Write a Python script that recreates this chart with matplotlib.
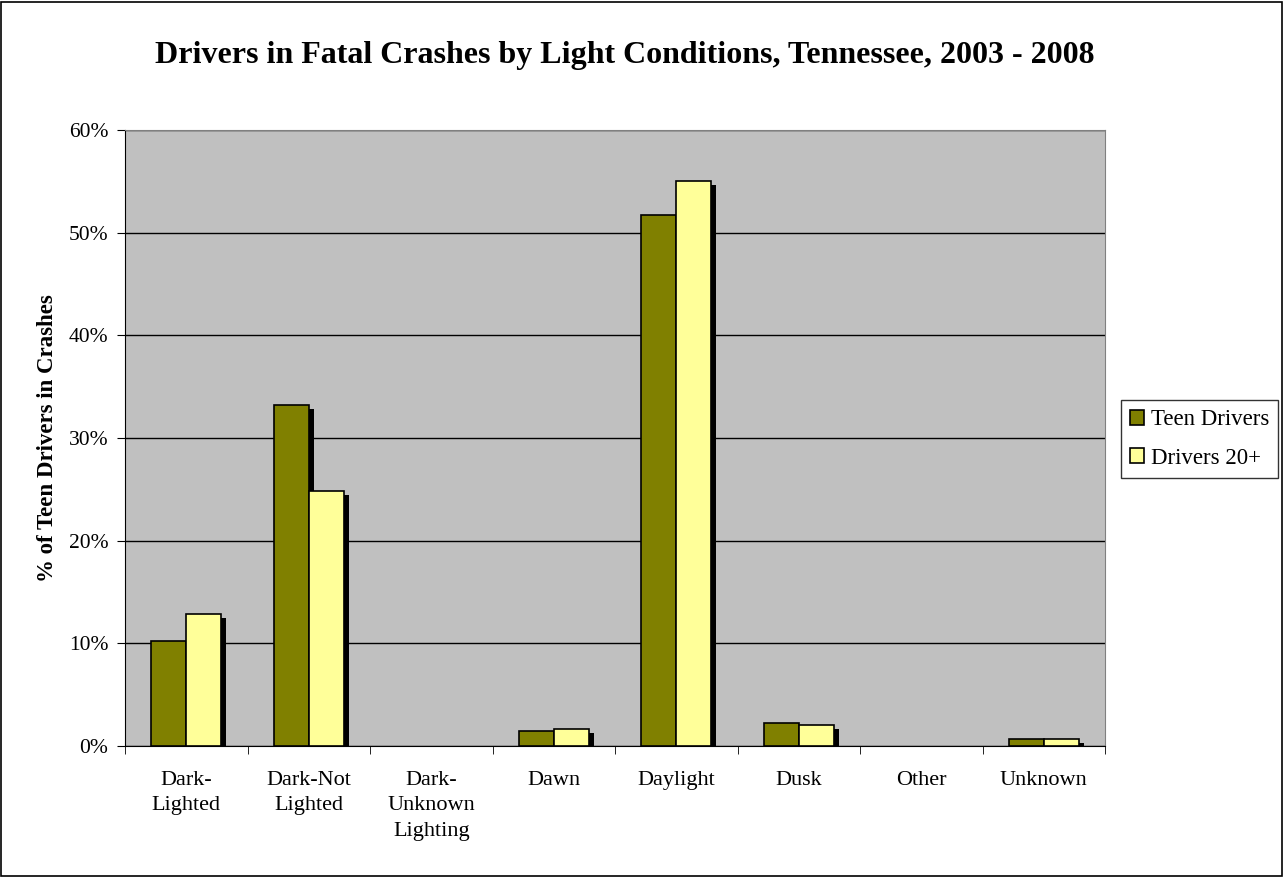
import matplotlib
matplotlib.use("Agg")
import matplotlib.pyplot as plt
import matplotlib.patheffects as pe
from matplotlib.patches import Patch, Rectangle
from matplotlib.ticker import FixedLocator, NullFormatter
import numpy as np

plt.rcParams['font.family'] = ['Liberation Serif', 'DejaVu Serif']

categories = ["Dark-\nLighted", "Dark-Not\nLighted", "Dark-\nUnknown\nLighting",
              "Dawn", "Daylight", "Dusk", "Other", "Unknown"]
teen_drivers = [10.2, 33.2, 0.0, 1.5, 51.7, 2.2, 0.0, 0.7]
drivers_20plus = [12.9, 24.8, 0.0, 1.7, 55.0, 2.0, 0.0, 0.7]
series_names = ["Teen Drivers", "Drivers 20+"]
colors = ["#808000", "#FFFF99"]
title = "Drivers in Fatal Crashes by Light Conditions, Tennessee, 2003 - 2008"
ylabel = "% of Teen Drivers in Crashes"

fig = plt.figure(figsize=(12.83, 8.77), dpi=100)
fig.patches.append(Rectangle((0.001, 0.001), 0.998, 0.997, transform=fig.transFigure,
                             fill=False, edgecolor="black", linewidth=1.2))

W, H = 1283, 877
left, right, top, bottom = 125, 1105, 130, 746
ax = fig.add_axes([left / W, 1 - bottom / H, (right - left) / W, (bottom - top) / H])
ax.set_facecolor("#C0C0C0")

x = np.arange(len(categories))
bw = 0.286
shadow = [pe.SimplePatchShadow(offset=(3.6, -2.9), shadow_rgbFace="black", alpha=1.0), pe.Normal()]
for i, (vals, c, name) in enumerate(zip([teen_drivers, drivers_20plus], colors, series_names)):
    bars = ax.bar(x + (i - 0.5) * bw, [v if v > 0 else np.nan for v in vals], width=bw,
                  color=c, edgecolor="black", linewidth=1.2, label=name, zorder=3)
    for b in bars:
        b.set_path_effects(shadow)

ax.set_xlim(-0.5, len(categories) - 0.5)
ax.set_ylim(0, 60)
ax.yaxis.set_major_locator(FixedLocator(np.arange(0, 61, 10)))
ax.set_yticklabels([f"{v}%" for v in range(0, 61, 10)], fontsize=15.5)
ax.yaxis.grid(True, color="black", linewidth=1.0, zorder=1)
ax.set_axisbelow(True)

ax.set_xticks(x)
ax.set_xticklabels(categories, fontsize=16, linespacing=1.45)
ax.tick_params(axis="x", which="major", length=0, pad=18)
ax.xaxis.set_minor_locator(FixedLocator(np.arange(-0.5, len(categories), 1)))
ax.xaxis.set_minor_formatter(NullFormatter())
ax.tick_params(axis="x", which="minor", length=6, color="black", direction="out")
ax.tick_params(axis="y", length=6, color="black", direction="out", pad=6)

for side in ["top", "right"]:
    ax.spines[side].set_color("#808080")
ax.spines["left"].set_color("black")
ax.spines["bottom"].set_color("black")

ax.set_ylabel(ylabel, fontsize=16.5, fontweight="bold", labelpad=8)
fig.text(625 / W, 1 - 55 / H, title, ha="center", va="center",
         fontsize=23, fontweight="bold")

handles = [Patch(facecolor=c, edgecolor="black", linewidth=1.2) for c in colors]
leg = fig.legend(handles, series_names, loc="center left",
                 bbox_to_anchor=(1121 / W, 1 - 439 / H), fontsize=16.5,
                 frameon=True, fancybox=False, edgecolor="black",
                 handlelength=0.6, handleheight=0.6, handletextpad=0.3,
                 borderpad=0.4, labelspacing=0.75, borderaxespad=0)
leg.get_frame().set_linewidth(1.0)

fig.savefig("out.png", dpi=100, facecolor="white")
